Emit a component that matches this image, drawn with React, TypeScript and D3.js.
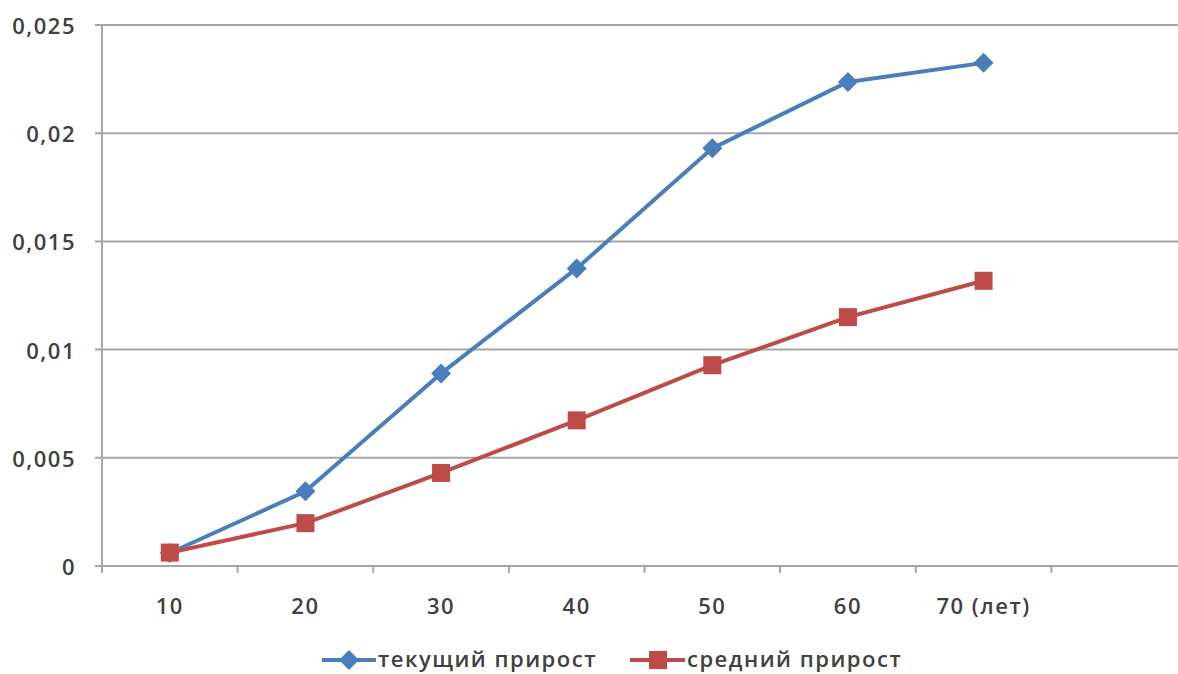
import React from "react";
import * as d3 from "d3";

const categories = ["10", "20", "30", "40", "50", "60", "70 (лет)", ""];
const currentGrowth = [0.0006, 0.00345, 0.0089, 0.01375, 0.0193, 0.02237, 0.02325];
const averageGrowth = [0.00062, 0.00198, 0.0043, 0.00673, 0.00928, 0.0115, 0.01318];
const yTicks = [0, 0.005, 0.01, 0.015, 0.02, 0.025];
const yTickLabels = ["0", "0,005", "0,01", "0,015", "0,02", "0,025"];
const seriesNames = ["текущий прирост", "средний прирост"];

const W = 1178;
const H = 674;
const BLUE = "#4A7EBB";
const RED = "#BE4B48";
const GRID = "#A6A6A6";
const TEXT = "#404040";
const FONT = "'Open Sans', sans-serif";
const LS = 1.5;

export default function App() {
  const x = d3.scaleBand<string>().domain(categories).range([102, 1187]);
  const y = d3.scaleLinear().domain([0, 0.025]).range([566, 25]);
  const cx = (i: number) => (x(categories[i]) as number) + x.bandwidth() / 2;
  const line = d3
    .line<number>()
    .x((_, i) => cx(i))
    .y((d) => y(d));

  const diamond = (px: number, py: number, r: number) =>
    `M${px},${py - r}L${px + r},${py}L${px},${py + r}L${px - r},${py}Z`;

  const tickXs = categories.map((c) => x(c) as number).concat([x.range()[1]]);

  return (
    <svg width={W} height={H} style={{ position: "absolute", left: 0, top: 0, background: "#fff" }}>
      <rect width={W} height={H} fill="#fff" />
      {yTicks.map((t, i) => (
        <g key={"y" + i}>
          <line x1={95} x2={W} y1={y(t)} y2={y(t)} stroke={GRID} strokeWidth={2} />
          <text
            x={76}
            y={y(t)}
            textAnchor="end"
            dominantBaseline="central"
            fontFamily={FONT}
            fontSize={22}
            fontWeight={600}
            letterSpacing={LS}
            fill={TEXT}
          >
            {yTickLabels[i]}
          </text>
        </g>
      ))}
      <line x1={102} x2={102} y1={y(0.025)} y2={573} stroke={GRID} strokeWidth={2} />
      {tickXs.map((tx, i) => (
        <line key={"xt" + i} x1={tx} x2={tx} y1={566} y2={573} stroke={GRID} strokeWidth={2} />
      ))}
      {categories.map((c, i) => (
        <text
          key={"xl" + i}
          x={cx(i)}
          y={605}
          textAnchor="middle"
          dominantBaseline="central"
          fontFamily={FONT}
          fontSize={22}
          fontWeight={600}
          letterSpacing={LS}
          fill={TEXT}
        >
          {c}
        </text>
      ))}
      <path d={line(currentGrowth) || ""} fill="none" stroke={BLUE} strokeWidth={4} strokeLinejoin="round" />
      <path d={line(averageGrowth) || ""} fill="none" stroke={RED} strokeWidth={4} strokeLinejoin="round" />
      {currentGrowth.map((v, i) => (
        <path key={"d" + i} d={diamond(cx(i), y(v), 10)} fill={BLUE} />
      ))}
      {averageGrowth.map((v, i) => (
        <rect key={"s" + i} x={cx(i) - 9} y={y(v) - 9} width={18} height={18} fill={RED} />
      ))}
      {/* legend */}
      <g>
        <line x1={322} x2={376} y1={660} y2={660} stroke={BLUE} strokeWidth={4} />
        <path d={diamond(349, 660, 10)} fill={BLUE} />
        <text x={378} y={658} dominantBaseline="central" fontFamily={FONT} fontSize={22} fontWeight={600} letterSpacing={LS} fill={TEXT}>
          {seriesNames[0]}
        </text>
        <line x1={630} x2={685} y1={660} y2={660} stroke={RED} strokeWidth={4} />
        <rect x={649} y={651} width={18} height={18} fill={RED} />
        <text x={687} y={658} dominantBaseline="central" fontFamily={FONT} fontSize={22} fontWeight={600} letterSpacing={LS} fill={TEXT}>
          {seriesNames[1]}
        </text>
      </g>
    </svg>
  );
}
